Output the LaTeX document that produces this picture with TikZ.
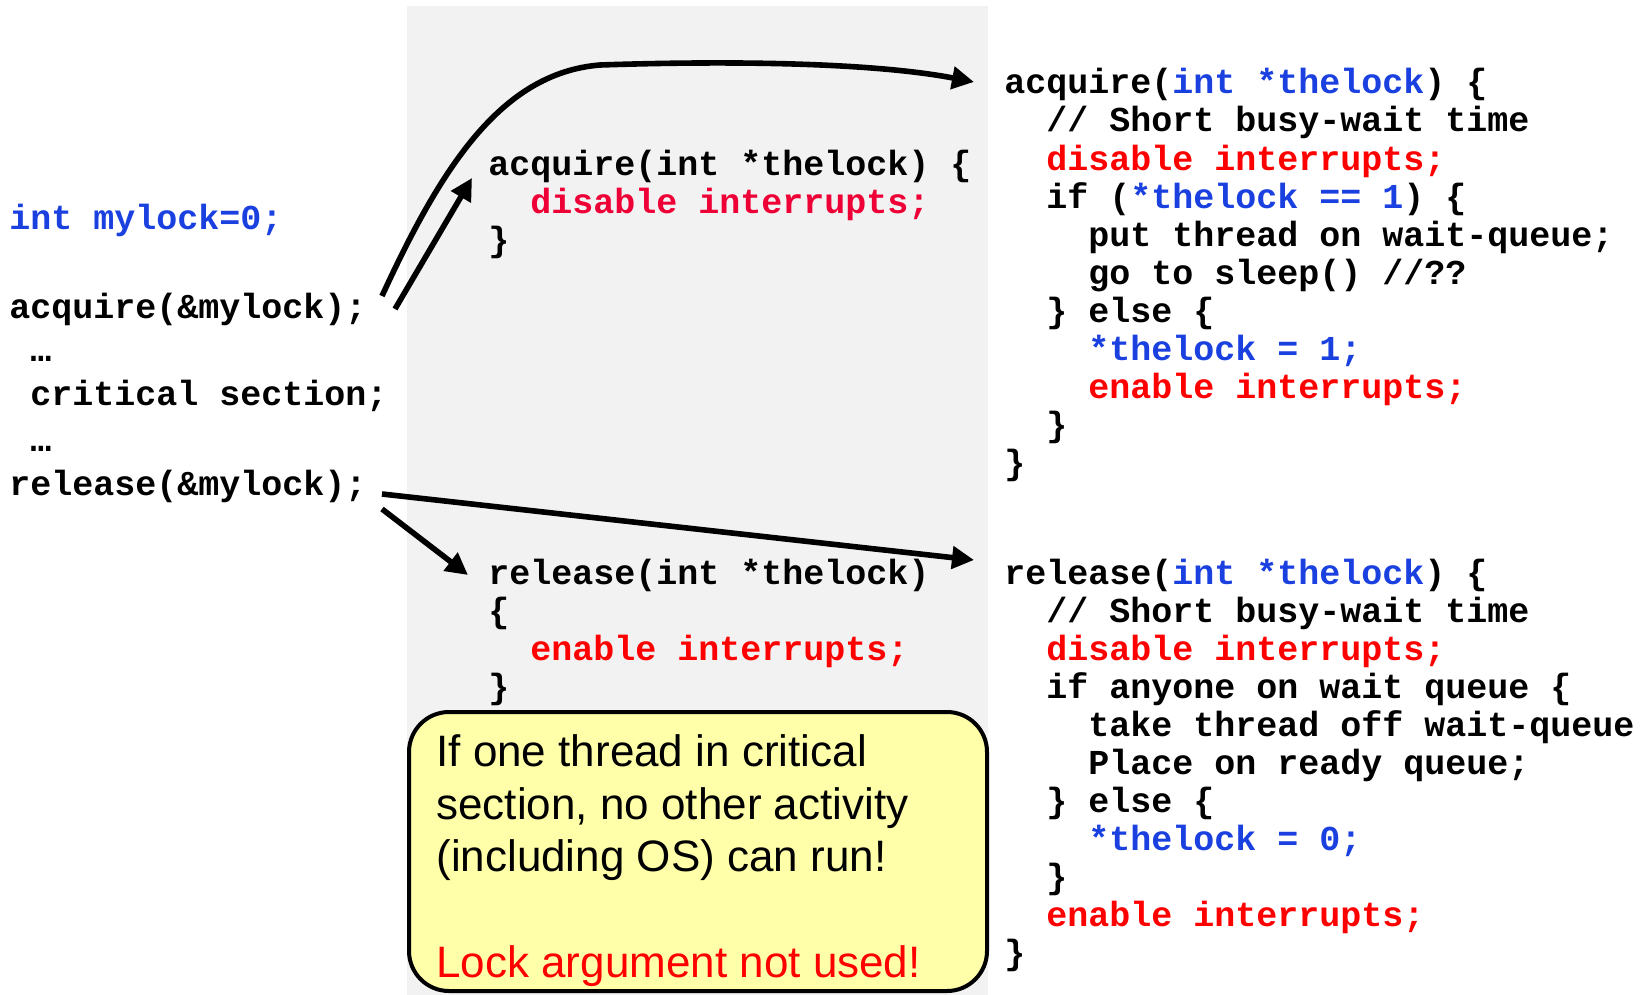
\documentclass[tikz,border=0pt]{standalone}
\usepackage{fontspec}
\setmainfont{Liberation Sans}
\newfontfamily\codefont{Liberation Mono}
\usetikzlibrary{arrows.meta}
\definecolor{cblue}{RGB}{26,64,224}
\definecolor{cred}{RGB}{255,0,0}
\definecolor{ccrim}{RGB}{238,0,55}
\definecolor{bggray}{RGB}{242,242,242}
\definecolor{noteyellow}{RGB}{255,255,170}
\newcommand{\cb}[1]{\textcolor{cblue}{#1}}
\tikzset{
  code/.style={font=\codefont\bfseries\fontsize{17.5pt}{19pt}\selectfont, anchor=base west, inner sep=0pt},
  notetxt/.style={font=\fontsize{22pt}{26pt}\selectfont, anchor=base west, inner sep=0pt},
  bigarrow/.style={line width=2.8pt, -{Triangle[length=11pt,width=11pt]}},
}
\begin{document}
\begin{tikzpicture}[x=0.5pt,y=-0.5pt]
\useasboundingbox (0,0) rectangle (1648,995);
% gray background panel
\fill[bggray] (407,6) rectangle (988,995);

% left column
\node[code, text=cblue] (decl) at (9,229) {int mylock=0;};
\node[code] (acall) at (9,318) {acquire(\&mylock);};
\node[code] (dots1) at (30,361) {…};
\node[code] (crit) at (30,405) {critical section;};
\node[code] (dots2) at (30,451) {…};
\node[code] (rcall) at (9,495) {release(\&mylock);};

% middle: simple versions
\node[code] (ma0) at (488,175) {acquire(int *thelock) \{};
\node[code, text=ccrim] (ma1) at (530,213) {disable interrupts;};
\node[code] (ma2) at (488,251) {\}};
\node[code] (mr0) at (488,584) {release(int *thelock)};
\node[code] (mr1) at (488,622) {\{};
\node[code, text=cred] (mr2) at (530,660) {enable interrupts;};
\node[code] (mr3) at (488,698) {\}};

% right: acquire
\node[code] (ra0) at (1004,94) {acquire(\cb{int *thelock}) \{};
\node[code] (ra1) at (1046,132) {// Short busy-wait time};
\node[code, text=cred] (ra2) at (1046,170) {disable interrupts;};
\node[code] (ra3) at (1046,208) {if (\cb{*thelock == 1}) \{};
\node[code] (ra4) at (1088,246) {put thread on wait-queue;};
\node[code] (ra5) at (1088,284) {go to sleep() //??};
\node[code] (ra6) at (1046,322) {\} else \{};
\node[code, text=cblue] (ra7) at (1088,360) {*thelock = 1;};
\node[code, text=cred] (ra8) at (1088,398) {enable interrupts;};
\node[code] (ra9) at (1046,436) {\}};
\node[code] (ra10) at (1004,474) {\}};

% right: release
\node[code] (rr0) at (1004,584) {release(\cb{int *thelock}) \{};
\node[code] (rr1) at (1046,622) {// Short busy-wait time};
\node[code, text=cred] (rr2) at (1046,660) {disable interrupts;};
\node[code] (rr3) at (1046,698) {if anyone on wait queue \{};
\node[code] (rr4) at (1088,736) {take thread off wait-queue};
\node[code] (rr5) at (1088,774) {Place on ready queue;};
\node[code] (rr6) at (1046,812) {\} else \{};
\node[code, text=cblue] (rr7) at (1088,850) {*thelock = 0;};
\node[code] (rr8) at (1046,888) {\}};
\node[code, text=cred] (rr9) at (1046,926) {enable interrupts;};
\node[code] (rr10) at (1004,964) {\}};

% note box
\draw[line width=2pt, fill=noteyellow, rounded corners=20pt] (409,712) rectangle (987,991);
\node[notetxt] (n1) at (436,766) {If one thread in critical};
\node[notetxt] (n2) at (436,819) {section, no other activity};
\node[notetxt] (n3) at (436,871) {(including OS) can run!};
\node[notetxt, text=cred] (n4) at (436,977) {Lock argument not used!};

% connector end points
\coordinate (a1s) at (382,296);
\coordinate (a1m) at (600,65);
\coordinate (a1e) at (974,82);
\coordinate (a2s) at (395,309);
\coordinate (a2e) at (472,178);
\coordinate (a3s) at (382,494);
\coordinate (a3e) at (974,560);
\coordinate (a4s) at (382,509);
\coordinate (a4e) at (468,575);

\draw[bigarrow] (a1s) .. controls (440,170) and (500,73) .. (a1m)
                      .. controls (750,60) and (880,64) .. (a1e);
\draw[bigarrow] (a2s) -- (a2e);
\draw[bigarrow] (a3s) -- (a3e);
\draw[bigarrow] (a4s) -- (a4e);
\end{tikzpicture}
\end{document}
